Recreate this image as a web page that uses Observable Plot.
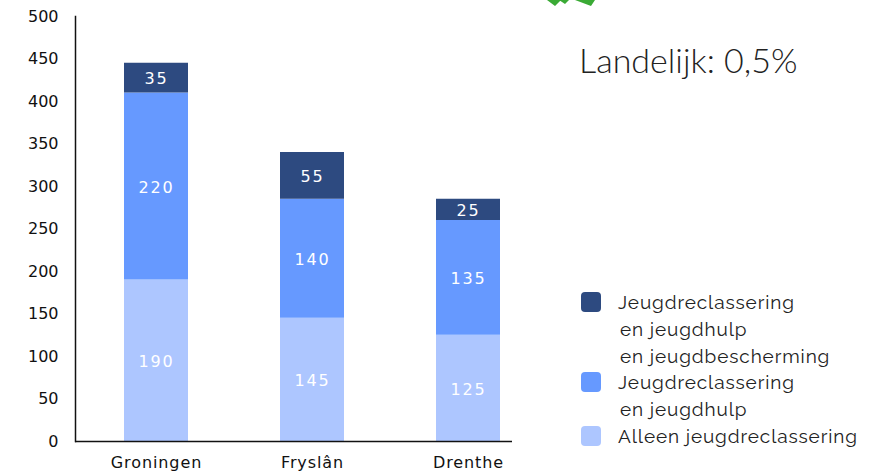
<!DOCTYPE html>
<html>
<head>
<meta charset="utf-8">
<script src="https://cdn.jsdelivr.net/npm/d3@7"></script>
<script src="https://cdn.jsdelivr.net/npm/@observablehq/plot@0.6"></script>
<style>
  html, body { margin: 0; padding: 0; background: #fff; }
  #wrap { position: relative; width: 870px; height: 475px; overflow: hidden; }
  #note { position: absolute; left: 579px; top: 39px; font-family: Lato, sans-serif; font-weight: 300; font-size: 34px; color: #222; white-space: nowrap; }
  #legend { position: absolute; left: 581px; top: 289px; font-family: Raleway, "Noto Sans", Lato, sans-serif; font-size: 19px; letter-spacing: 0.9px; color: #222; line-height: 26.8px; }
  .item { position: relative; padding-left: 37px; }
  .sw { position: absolute; left: 0; top: 3px; width: 20px; height: 20px; border-radius: 4px; }
  #logo { position: absolute; left: 545px; top: 0; }
  #chart g[aria-label="x-axis tick label"] text { letter-spacing: 0.9px; }
  #chart g[aria-label="text"] text { letter-spacing: 1.8px; }
</style>
</head>
<body>
<div id="wrap">
  <div id="chart"></div>
  <svg id="logo" width="55" height="8"><path d="M2,0 L10,6 L16,0 Z M14,0 L20,4 L24,0 Z M30,0 L46,6 L50,0 Z" fill="#3aaa35"/></svg>
  <div id="note">Landelijk: 0,5%</div>
  <div id="legend"></div>
</div>
<script>
const provinces = ["Groningen", "Fryslân", "Drenthe"];
const seriesNames = ["Alleen jeugdreclassering", "Jeugdreclassering en jeugdhulp", "Jeugdreclassering en jeugdhulp en jeugdbescherming"];
const alleen = [190, 145, 125];
const metHulp = [220, 140, 135];
const metBescherming = [35, 55, 25];
const colors = ["#adc6ff", "#6699ff", "#2d4a80"];
const yTicks = [0, 50, 100, 150, 200, 250, 300, 350, 400, 450, 500];

const seriesValues = [alleen, metHulp, metBescherming];
const data = [];
seriesNames.forEach((s, si) => provinces.forEach((p, pi) => data.push({province: p, series: s, value: seriesValues[si][pi]})));

const stackOpts = {x: "province", y: "value", z: "series", order: seriesNames};

const chart = Plot.plot({
  width: 870,
  height: 475,
  marginLeft: 75,
  marginRight: 358,
  marginTop: 16,
  marginBottom: 34,
  style: {fontFamily: "'DejaVu Sans', Verdana, sans-serif", background: "transparent", overflow: "visible"},
  x: {domain: provinces, range: [123, 500], paddingInner: 0.591, paddingOuter: 0, label: null},
  y: {domain: [0, 500], label: null},
  color: {domain: seriesNames, range: colors},
  marks: [
    Plot.barY(data, Plot.stackY({...stackOpts, fill: "series"})),
    Plot.text(data, Plot.stackY({...stackOpts, text: "value", fill: "white", fontSize: 16, dy: 1})),
    Plot.axisY({ticks: yTicks, tickSize: 0, tickPadding: 17, fontSize: 16, color: "#111", label: null}),
    Plot.axisX({tickSize: 0, tickPadding: 15, fontSize: 16, color: "#111", label: null}),
    Plot.frame({anchor: "left", stroke: "#111", strokeWidth: 1.5}),
    Plot.ruleY([0], {stroke: "#111", strokeWidth: 1.5})
  ]
});
document.getElementById("chart").appendChild(chart);

const legendItems = [
  {color: colors[2], lines: ["Jeugdreclassering", "en jeugdhulp", "en jeugdbescherming"]},
  {color: colors[1], lines: ["Jeugdreclassering", "en jeugdhulp"]},
  {color: colors[0], lines: ["Alleen jeugdreclassering"]}
];
const legend = document.getElementById("legend");
legendItems.forEach(it => {
  const div = document.createElement("div");
  div.className = "item";
  const sw = document.createElement("span");
  sw.className = "sw";
  sw.style.background = it.color;
  div.appendChild(sw);
  it.lines.forEach((l, i) => {
    const line = document.createElement("div");
    line.textContent = l;
    if (i > 0) line.style.paddingLeft = "2px";
    div.appendChild(line);
  });
  legend.appendChild(div);
});
</script>
</body>
</html>
